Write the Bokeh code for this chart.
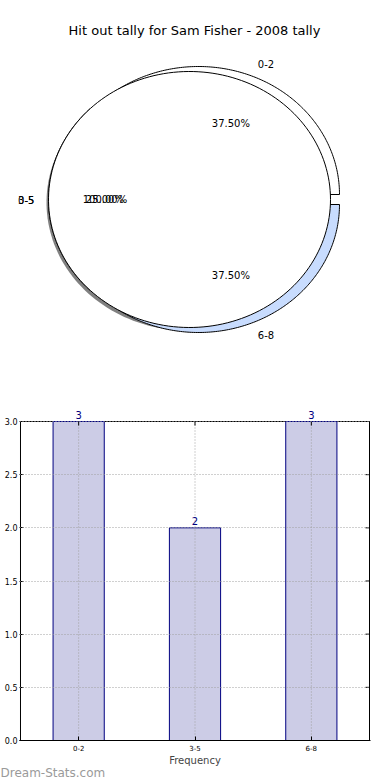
import numpy as np
from bokeh.plotting import figure
from bokeh.models import (Range1d, ColumnDataSource, LabelSet, Label, FixedTicker, Title,
                          SingleIntervalTicker, NumeralTickFormatter)
from bokeh.layouts import column, row
from bokeh.core.properties import value
from bokeh.embed import file_html
from bokeh.resources import INLINE

# ---------------- data ----------------
title_text = "Hit out tally for Sam Fisher - 2008 tally"
categories = ["0-2", "3-5", "6-8"]
counts = [3, 2, 3]
pie_colors = ["#ffffff", "#ffffff", "#c8dcfe"]
overlay_labels = ["0-5"]
overlay_counts = [8]
x_label = "Frequency"
watermark = "Dream-Stats.com"
y_tick_step = 0.5

FONT_NAME = "DejaVu Sans"
FONT = value(FONT_NAME)

# ---------------- layout constants ----------------
W = 390
PIE_H = 398
BAR_H = 382
LEFT, RIGHT = 19, 20          # bar frame borders
RX, RY = 141.0, 128.0         # px per unit radius
CX_PX, CY_PX = 189.0, 199.0   # pie centre in page px (from left / top)
explode_px = [(9, 5), (0, 0), (9, -5)]

pie = figure(width=W, height=PIE_H,
             x_range=Range1d(-CX_PX / RX, (W - CX_PX) / RX),
             y_range=Range1d(-(PIE_H - CY_PX) / RY, CY_PX / RY),
             x_axis_location=None, y_axis_location=None,
             output_backend="svg", toolbar_location=None, min_border=0,
             outline_line_color=None)
pie.grid.visible = False


def wedge(a0, a1, cx, cy, n=180):
    t = np.linspace(a0, a1, n)
    xs = list(cx + np.cos(t))
    ys = list(cy + np.sin(t))
    if a1 - a0 < 2 * np.pi - 1e-9:
        xs = [cx] + xs + [cx]
        ys = [cy] + ys + [cy]
    return xs, ys


def text_rows(vals, labels, offsets):
    tot = float(sum(vals))
    cum = np.cumsum([0] + list(vals)) / tot * 2 * np.pi
    rows = dict(x=[], y=[], text=[], align=[])
    prow = dict(x=[], y=[], text=[])
    polys = dict(xs=[], ys=[])
    for i, v in enumerate(vals):
        a0, a1 = cum[i], cum[i + 1]
        mid = (a0 + a1) / 2
        ox, oy = offsets[i][0] / RX, offsets[i][1] / RY
        xs, ys = wedge(a0, a1, ox, oy)
        polys["xs"].append(xs)
        polys["ys"].append(ys)
        lx, ly = 1.1 * np.cos(mid) + ox, 1.1 * np.sin(mid) + oy
        rows["x"].append(lx)
        rows["y"].append(ly)
        rows["text"].append(labels[i])
        rows["align"].append("left" if lx > 0 else "right")
        prow["x"].append(0.6 * np.cos(mid) + ox)
        prow["y"].append(0.6 * np.sin(mid) + oy)
        prow["text"].append(f"{v / tot * 100:.2f}%")
    return polys, rows, prow


polys1, lab1, pct1 = text_rows(counts, categories, explode_px)
polys2, lab2, pct2 = text_rows(overlay_counts, overlay_labels, [(0, 0)])

# shadow of overlay pie
sx, sy = wedge(0, 2 * np.pi, -2 / RX, -3 / RY)
pie.patch(sx, sy, fill_color="#555555", fill_alpha=0.75, line_color=None)

# first pie wedges
pie.patches(xs="xs", ys="ys", source=ColumnDataSource(dict(polys1, color=pie_colors)),
            fill_color="color", line_color="black", line_width=1)
# overlay single-wedge pie
pie.patches(xs="xs", ys="ys", source=ColumnDataSource(polys2),
            fill_color="white", line_color="black", line_width=1)

for rows in (lab1, lab2):
    pie.text(x="x", y="y", text="text", text_align="align", source=ColumnDataSource(rows),
             text_baseline="middle", text_font=FONT, text_font_size="10px", text_color="black")
for rows in (pct1, pct2):
    pie.text(x="x", y="y", text="text", source=ColumnDataSource(rows),
             text_align="center", text_baseline="middle", text_font=FONT,
             text_font_size="10px", text_color="black")

pie.add_layout(Label(x=(194 - CX_PX) / RX, y=(CY_PX - 30) / RY, text=title_text,
                     text_align="center", text_baseline="middle", text_font=FONT_NAME,
                     text_font_size="13px", text_color="black"))

# ---------------- bar figure ----------------
xpos = list(range(len(categories)))
ymax = max(counts)
yticks = list(np.arange(0, ymax + y_tick_step / 2, y_tick_step))
FRAME_TOP_PAD = 23      # px between figure top and the y = ymax box edge
BOTTOM = 40
box_h = BAR_H - BOTTOM - FRAME_TOP_PAD
box_w = W - LEFT - RIGHT - 2
pad_x = 1.0 / 117.0
xr = len(categories) - 0.5
bar = figure(width=W, height=BAR_H,
             x_range=Range1d(-0.5 - pad_x, xr + pad_x),
             y_range=Range1d(0, ymax * (box_h + FRAME_TOP_PAD) / box_h),
             output_backend="svg", toolbar_location=None,
             min_border_top=0, min_border_bottom=BOTTOM, min_border_left=LEFT,
             min_border_right=RIGHT, outline_line_color=None)

# plot box (axes frame)
bar.quad(left=[-0.5], right=[xr], bottom=[0], top=[ymax],
         fill_color=None, line_color="black", line_width=1)

src = ColumnDataSource(dict(x=xpos, top=counts, txt=[str(c) for c in counts]))
bar.vbar(x="x", top="top", width=0.44, source=src, fill_color="#ccccE6",
         line_color="#000080", line_width=1)

# vertical dotted grid lines inside the box
bar.segment(x0=xpos, y0=[0] * len(xpos), x1=xpos, y1=[ymax] * len(xpos),
            line_color="#a0a0a0", line_dash="1 2", line_width=1)
# inward top ticks
bar.segment(x0=xpos, y0=[ymax] * len(xpos), x1=xpos, y1=[ymax * (1 - 4 / box_h)] * len(xpos),
            line_color="black", line_width=1)
# inward right ticks
tick_dx = 4 * (len(categories)) / box_w
bar.segment(x0=[xr] * len(yticks), y0=yticks, x1=[xr - tick_dx] * len(yticks), y1=yticks,
            line_color="black", line_width=1)

bar.add_layout(LabelSet(x="x", y="top", text="txt", source=src, y_offset=3,
                        text_align="center", text_baseline="bottom", text_font=FONT,
                        text_font_size="10px", text_color="#000080"))

bar.xaxis.ticker = FixedTicker(ticks=xpos)
bar.xaxis.major_label_overrides = {i: c for i, c in zip(xpos, categories)}
bar.yaxis.ticker = FixedTicker(ticks=yticks)
bar.yaxis.formatter = NumeralTickFormatter(format="0.0")
for ax in (bar.xaxis, bar.yaxis):
    ax.major_tick_in = 4
    ax.major_tick_out = 0
    ax.minor_tick_line_color = None
    ax.major_label_text_font = FONT_NAME
    ax.major_label_text_color = "black"
bar.xaxis.axis_line_color = "black"
bar.yaxis.axis_line_color = None
bar.yaxis.major_label_text_font_size = "8px"
bar.yaxis.major_label_standoff = 2
bar.xaxis.major_label_text_font_size = "7px"
bar.xaxis.major_label_standoff = 4
bar.xaxis.axis_label = x_label
bar.xaxis.axis_label_text_font = FONT_NAME
bar.xaxis.axis_label_text_font_size = "10px"
bar.xaxis.axis_label_text_font_style = "normal"
bar.xaxis.axis_label_standoff = 1

bar.xgrid.visible = False
bar.ygrid.ticker = FixedTicker(ticks=yticks)
bar.ygrid.grid_line_color = "#a0a0a0"
bar.ygrid.grid_line_dash = "1 2"
bar.ygrid.level = "overlay"

bar.add_layout(Title(text=watermark, align="left", offset=-LEFT, standoff=-9,
                     text_font=FONT_NAME, text_font_size="12px", text_font_style="normal",
                     text_color="#9a9a9a"), "below")

layout = column(row(pie), bar, spacing=0)
open("out.html", "w").write(file_html(layout, INLINE))
